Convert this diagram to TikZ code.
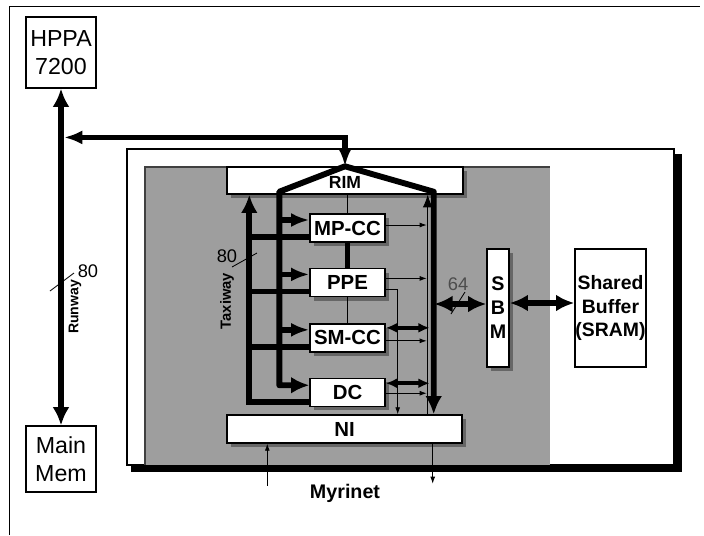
\documentclass[tikz,border=0pt]{standalone}
\usepackage{fontspec}
\setsansfont{Liberation Sans}
\usetikzlibrary{positioning, arrows.meta, calc, shadows}

\newcommand{\pxl}{0.025cm}

\begin{document}
\begin{tikzpicture}[
			x=\pxl, y=-\pxl, node distance=0.625cm,
			host/.style={rectangle, draw=black, fill=white, line width=0.8pt, inner sep=0pt, align=center, font=\sffamily\fontsize{16.5}{20}\selectfont},
			chip/.style={rectangle, draw=black, fill=white, line width=1pt, inner sep=0pt, minimum width=75*\pxl, minimum height=28*\pxl, align=center, font=\bfseries\sffamily\fontsize{14.5}{16}\selectfont, drop shadow={shadow xshift=3pt, shadow yshift=-3pt, fill=black, opacity=0.35}},
			bus/.style={line width=4.2pt, draw=black, >={Latex[length=13pt,width=12pt]}},
			feed/.style={line width=3.8pt, draw=black, >={Latex[length=13pt,width=10pt]}},
			mid/.style={line width=2.6pt, draw=black, >={Latex[length=8pt,width=7pt]}},
			wire/.style={line width=0.6pt, draw=black, >={Latex[length=5pt,width=3.5pt]}},
			tag/.style={inner sep=0pt, font=\sffamily\fontsize{13}{15}\selectfont}
			]
			\useasboundingbox (0,0) rectangle (704,535);
			\draw[line width=0.6pt] (9,535) -- (9,6) -- (700,6);
			
			% board and shaded chip area
			\fill[black] (131,154) rectangle (682,472);
			\draw[fill=white, line width=0.8pt] (127,149) rectangle (674,465);
			\fill[black!38] (145,167) rectangle (550,465);
			\draw[black!75, line width=0.8pt] (145,465) -- (145,167) -- (550,167);
			
			\node[host, minimum width=70*\pxl, minimum height=71*\pxl] (hppa) at (61,52.5) {HPPA\\7200};
			\node[host, minimum width=70*\pxl, minimum height=66*\pxl] (mem) at (61,459) {Main\\Mem};
			
			\node[chip, minimum width=236*\pxl, minimum height=27*\pxl, font=\bfseries\sffamily\fontsize{12.5}{14}\selectfont] (rim) at (345,180.5) {\raisebox{-5.8pt}[0pt][0pt]{RIM}};
			\node[chip] (mpcc) at (347.5,228) {MP-CC};
			\node[chip, below=of mpcc] (ppe) {PPE};
			\node[chip, below=0.65cm of ppe] (smcc) {SM-CC};
			\node[chip, below=of smcc] (dc) {DC};
			\node[chip, minimum width=235*\pxl] (ni) at (344.5,429) {NI};
			\node[chip, minimum width=22*\pxl, minimum height=118*\pxl, font=\bfseries\sffamily\fontsize{14}{17}\selectfont] (sbm) at (498,308) {S\\B\\M};
			\node[host, minimum width=71*\pxl, minimum height=118*\pxl, line width=1pt, font=\bfseries\sffamily\fontsize{13.8}{16.5}\selectfont] (shb) at (610.5,308) {Shared\\Buffer\\(SRAM)};
			
			% runway
			\draw[bus,<->] (hppa.south) -- (mem.north);
			\draw[wire] (50,291) -- (74,273);
			\node[tag] (rwbits) at (88,271) {80};
			\node[rotate=90, inner sep=0pt, font=\bfseries\sffamily\fontsize{10}{12}\selectfont] (rwname) at (75,307) {Runway};
			\coordinate (rwtap) at ($(hppa.south)!0.145!(mem.north)+(3,0)$);
			\draw[feed,<->] (rim.north) |- (rwtap);
			
			% taxiway
			\coordinate (roofL) at ($(rim.south west)+(53,-3)$);
			\coordinate (roofR) at ($(rim.south east)+(-30,-3)$);
			\coordinate (taxi) at ($(rim.south west)+(23,0)$);
			\coordinate (back) at ($(rim.south east)+(-36,0)$);
			\draw[bus, line join=round, <->] ($(dc.west)+(0,-7)$) -| (roofL) -- (rim.north) -- (roofR) -- (roofR |- ni.north);
			\draw[bus,->] ($(dc.west)+(0,10)$) -| (taxi);
			\foreach \b in {mpcc,ppe,smcc} {
				\draw[feed,<-] ($(\b.west)+(0,-8)$) -- ++(-30,0);
				\draw[feed] ($(\b.west)+(0,9)$) -- ++(-61,0);
			}
			\node[tag] (txbits) at (227,256) {80};
			\draw[wire] (232,267) -- (257,253);
			\node[rotate=90, inner sep=0pt, font=\bfseries\sffamily\fontsize{10.5}{12}\selectfont] (txname) at (227,301) {Taxiway};
			
			% column links
			\draw[wire] (mpcc.north |- rim.south) -- (mpcc.north);
			\draw[bus] (mpcc.south) -- (ppe.north);
			\draw[wire] (ppe.south) -- (smcc.north);
			
			% right side bus
			\draw[wire,->] ($(mpcc.east)+(0,-3)$) -- ++(41,0);
			\draw[wire,->] ($(ppe.east)+(0,-4)$) -- ++(41,0);
			\draw[wire,->] ($(ppe.east)+(0,7)$) -- ++(12,0) coordinate (drop) -- (drop |- ni.north);
			\draw[mid,<->] ($(smcc.east)+(0,-10)$) -- ++(44,0);
			\draw[wire,->] ($(smcc.east)+(0,3)$) -- ++(41,0);
			\draw[mid,<->] ($(dc.east)+(0,-9)$) -- ++(44,0);
			\draw[wire,->] ($(dc.east)+(0,1)$) -- ++(41,0);
			\draw[wire,-{Latex[length=9pt,width=7pt]}] (back |- ni.north) -- (back);
			
			% shared buffer
			\draw[bus,<->] ($(sbm.west)+(0,-4)$) -- ++(-52,0);
			\draw[bus,<->] ($(sbm.east)+(0,-5)$) -- ($(shb.west)+(0,-5)$);
			\node[tag, text=black!70] (sbbits) at (458,284) {64};
			\draw[wire] (451,314) -- (465,292);
			
			% myrinet
			\draw[wire,<-] ($(ni.south west)+(41,0)$) -- ++(0,42);
			\draw[wire,->] ($(ni.south east)+(-30,0)$) -- ++(0,40);
			\node[font=\bfseries\sffamily\fontsize{14}{16}\selectfont] (myri) at (345,493) {Myrinet};
		\end{tikzpicture}
\end{document}
